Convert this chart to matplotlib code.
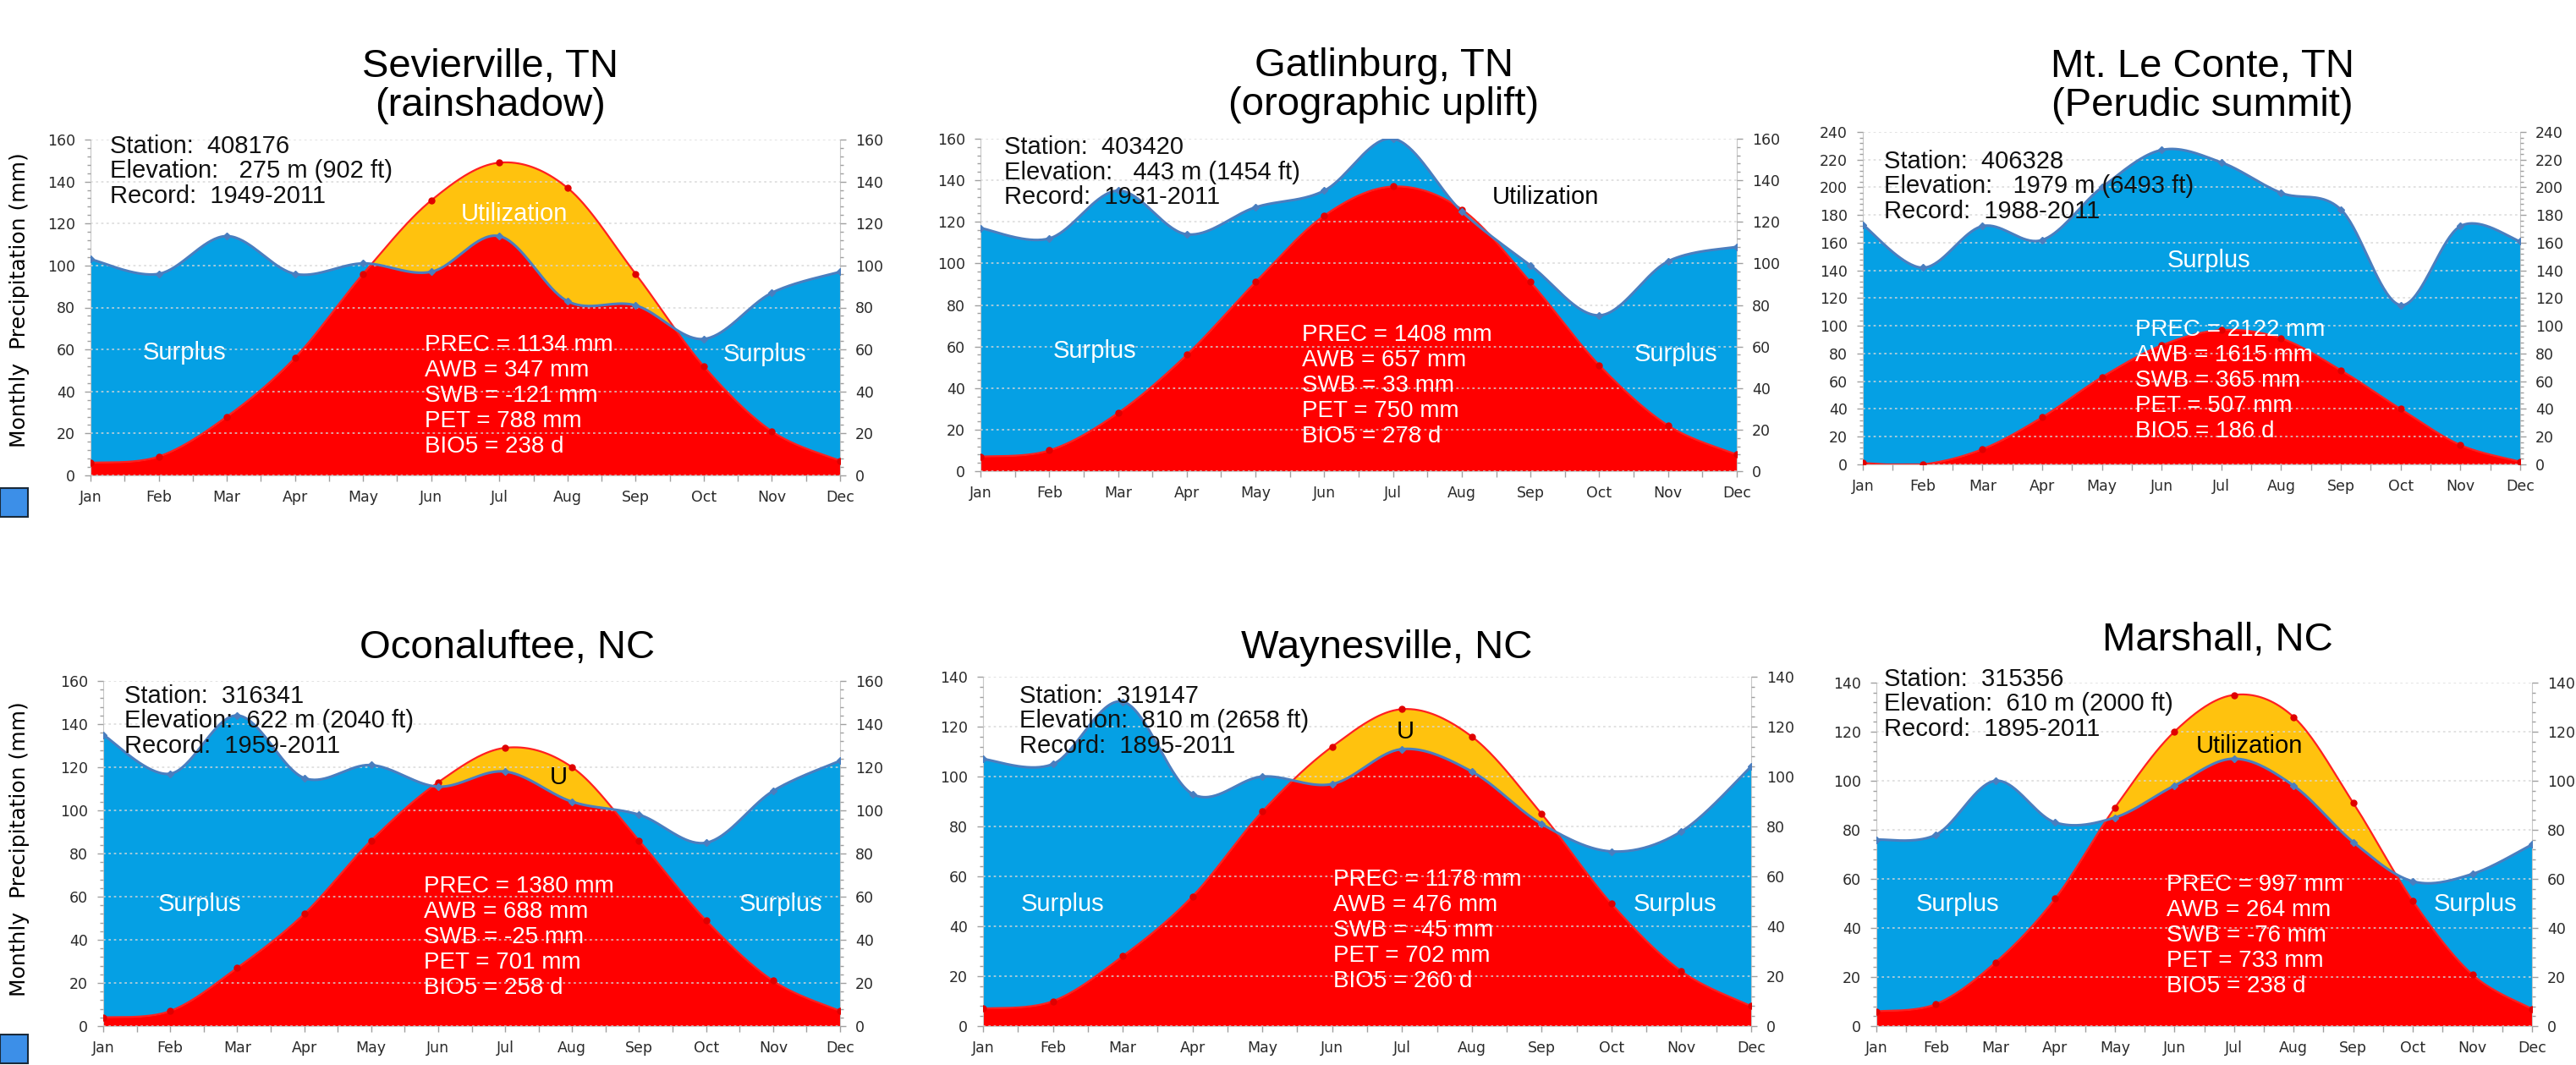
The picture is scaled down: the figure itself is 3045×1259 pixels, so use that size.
import numpy as np
import matplotlib.pyplot as plt
from matplotlib.patches import Rectangle
from matplotlib.ticker import MultipleLocator

W, H = 3045, 1259

months = ['Jan', 'Feb', 'Mar', 'Apr', 'May', 'Jun', 'Jul', 'Aug', 'Sep', 'Oct', 'Nov', 'Dec']

# monthly precipitation and potential evapotranspiration (mm)
sev_prec = [103, 96, 114, 96, 101, 97, 114, 83, 81, 65, 87, 97]
sev_pet = [6, 9, 28, 56, 96, 131, 149, 137, 96, 52, 21, 7]
gat_prec = [117, 112, 135, 114, 127, 135, 160, 125, 99, 75, 101, 108]
gat_pet = [7, 10, 28, 56, 91, 123, 137, 126, 91, 51, 22, 8]
lec_prec = [173, 142, 172, 162, 200, 227, 218, 196, 184, 115, 172, 161]
lec_pet = [1, 0, 11, 34, 63, 86, 97, 91, 68, 40, 14, 2]
oco_prec = [135, 117, 144, 115, 121, 111, 118, 104, 98, 85, 109, 123]
oco_pet = [4, 7, 27, 52, 86, 113, 129, 120, 86, 49, 21, 7]
way_prec = [107, 105, 130, 93, 100, 97, 111, 102, 81, 70, 78, 104]
way_pet = [7, 10, 28, 52, 86, 112, 127, 116, 85, 49, 22, 8]
mar_prec = [76, 78, 100, 83, 85, 98, 109, 98, 75, 59, 62, 74]
mar_pet = [6, 9, 26, 52, 89, 120, 135, 126, 91, 51, 21, 7]

titles = ['Sevierville, TN\n(rainshadow)', 'Gatlinburg, TN\n(orographic uplift)',
          'Mt. Le Conte, TN\n(Perudic summit)', 'Oconaluftee, NC', 'Waynesville, NC', 'Marshall, NC']
station_ids = ['408176', '403420', '406328', '316341', '319147', '315356']
elevations = ['   275 m (902 ft)', '   443 m (1454 ft)', '   1979 m (6493 ft)',
              '  622 m (2040 ft)', '  810 m (2658 ft)', '  610 m (2000 ft)']
records = ['1949-2011', '1931-2011', '1988-2011', '1959-2011', '1895-2011', '1895-2011']
prec_total = [1134, 1408, 2122, 1380, 1178, 997]
awb = [347, 657, 1615, 688, 476, 264]
swb = [-121, 33, 365, -25, -45, -76]
pet_total = [788, 750, 507, 701, 702, 733]
bio5 = [238, 278, 186, 258, 260, 238]

series = [(sev_prec, sev_pet), (gat_prec, gat_pet), (lec_prec, lec_pet),
          (oco_prec, oco_pet), (way_prec, way_pet), (mar_prec, mar_pet)]
ymax = [160, 160, 240, 160, 140, 140]

# layout in pixels: axes box (left, right, top, bottom), title centre, info and stats anchors
boxes = [(107, 993, 165, 562), (1159, 2053, 164, 557), (2202, 2979, 156, 549),
         (122, 993, 805, 1213), (1162, 2070, 800, 1213), (2218, 2993, 807, 1213)]
title_xy = [(580, 102), (1636, 101), (2603, 102), (600, 766), (1639, 766), (2621, 757)]
info_xy = [(130, 173), (1187, 174), (2227, 191), (147, 823), (1205, 823), (2227, 803)]
stats_xy = [(502, 408), (1539, 396), (2524, 390), (501, 1048), (1576, 1040), (2561, 1046)]
# (text, x, y, colour) labels inside the plots
labels = [
    [('Surplus', 218, 417, 'white'), ('Surplus', 904, 419, 'white'), ('Utilization', 608, 253, 'white')],
    [('Surplus', 1294, 415, 'white'), ('Surplus', 1981, 419, 'white'), ('Utilization', 1827, 233, 'black')],
    [('Surplus', 2611, 308, 'white')],
    [('Surplus', 236, 1069, 'white'), ('Surplus', 923, 1069, 'white'), ('U', 660, 919, 'black')],
    [('Surplus', 1256, 1069, 'white'), ('Surplus', 1980, 1069, 'white'), ('U', 1661, 865, 'black')],
    [('Surplus', 2314, 1069, 'white'), ('Surplus', 2926, 1069, 'white'), ('Utilization', 2659, 882, 'black')],
]

BLUE = '#05a0e4'
BLUE_LINE = '#4a7ebf'
RED = '#ff0000'
YELLOW = '#ffc20e'
SANS = ['Liberation Sans', 'DejaVu Sans']


def fx(x):
    return x / W


def fy(y):
    return 1 - y / H


def smooth(vals, n=40):
    # Catmull-Rom style bezier, the same kind of smoothing spreadsheet charts use
    x = np.arange(len(vals), dtype=float)
    y = np.asarray(vals, dtype=float)
    xp = np.concatenate([[x[0]], x, [x[-1]]])
    yp = np.concatenate([[y[0]], y, [y[-1]]])
    t = np.linspace(0, 1, n)[:, None]
    xs, ys = [], []
    for i in range(len(vals) - 1):
        p0, p1, p2, p3 = [np.array([xp[i + k], yp[i + k]]) for k in range(4)]
        c1 = p1 + (p2 - p0) / 6
        c2 = p2 - (p3 - p1) / 6
        b = ((1 - t) ** 3) * p1 + 3 * ((1 - t) ** 2) * t * c1 + 3 * (1 - t) * t ** 2 * c2 + t ** 3 * p2
        xs.append(b[:-1, 0])
        ys.append(b[:-1, 1])
    xs.append([x[-1]])
    ys.append([y[-1]])
    return np.concatenate(xs), np.concatenate(ys)


fig = plt.figure(figsize=(W / 100, H / 100), dpi=100)
idx = np.arange(12)

for k in range(6):
    prec, pet = series[k]
    l, r, t, b = boxes[k]
    ax = fig.add_axes([fx(l), fy(b), (r - l) / W, (b - t) / H])

    xs, ps = smooth(prec)
    _, es = smooth(pet)
    ps = np.clip(ps, 0, None)
    es = np.clip(es, 0, None)
    ax.fill_between(xs, 0, ps, color=BLUE, lw=0, zorder=1)
    ax.fill_between(xs, 0, es, color=YELLOW, lw=0, zorder=1.1)
    ax.fill_between(xs, 0, np.minimum(ps, es), color=RED, lw=0, zorder=1.2)
    ax.plot(xs, es, color='#ff2020', lw=1.6, zorder=3)
    ax.plot(idx, pet, 'o', ms=5, color='#e00000', zorder=3.5)
    ax.plot(xs, ps, color=BLUE_LINE, lw=2.2, zorder=3.2)
    ax.plot(idx, prec, 'D', ms=4.5, color=BLUE_LINE, zorder=3.6)

    ax.set_xlim(0, 11)
    ax.set_ylim(0, ymax[k])
    ax.set_xticks(idx)
    ax.set_xticklabels(months)
    ax.xaxis.set_minor_locator(MultipleLocator(0.5))
    ax.yaxis.set_major_locator(MultipleLocator(20))
    ax.yaxis.set_minor_locator(MultipleLocator(4))
    ax.tick_params(axis='both', which='both', colors='#a0a0a0', labelcolor='#2a2a2a',
                   labelsize=12.5, width=1)
    ax.tick_params(axis='y', which='both', left=True, right=True, labelleft=True, labelright=True)
    ax.tick_params(axis='y', which='major', length=5, pad=8)
    ax.tick_params(axis='y', which='minor', length=3)
    ax.tick_params(axis='x', which='both', length=5, pad=7)
    for s in ['left', 'right', 'bottom']:
        ax.spines[s].set_color('#c8c8c8')
    ax.spines['top'].set_visible(False)
    ax.set_axisbelow(False)
    ax.grid(axis='y', which='major', ls=(0, (1.5, 2)), color='#d8d8d8', lw=1.3, alpha=0.8)
    ax.set_facecolor('white')

    fig.text(fx(title_xy[k][0]), fy(title_xy[k][1]), titles[k], ha='center', va='center',
             fontsize=34, family=SANS, linespacing=1.05)

    ix, iy = info_xy[k]
    info = ['Station:  ' + station_ids[k], 'Elevation:' + elevations[k], 'Record:  ' + records[k]]
    for j, line in enumerate(info):
        fig.text(fx(ix), fy(iy + 29.5 * j), line, ha='left', va='center', fontsize=21,
                 family=SANS, color='#111111')

    sx, sy = stats_xy[k]
    stats = ['PREC = %d mm' % prec_total[k], 'AWB = %d mm' % awb[k], 'SWB = %d mm' % swb[k],
             'PET = %d mm' % pet_total[k], 'BIO5 = %d d' % bio5[k]]
    for j, line in enumerate(stats):
        fig.text(fx(sx), fy(sy + 30 * j), line, ha='left', va='center', fontsize=20,
                 family=SANS, color='white')

    for text, lx, ly, c in labels[k]:
        fig.text(fx(lx), fy(ly), text, ha='center', va='center', fontsize=21,
                 family=SANS, color=c)

# shared axis titles and the little legend swatches at the left edge
for yc in [355, 1004]:
    fig.text(fx(23), fy(yc), 'Monthly  Precipitation (mm)', rotation=90, ha='center',
             va='center', fontsize=18)
for y0 in [577, 1223]:
    fig.patches.append(Rectangle((0, fy(y0 + 34)), fx(33), 34 / H, transform=fig.transFigure,
                                 facecolor='#3c8fe8', edgecolor='#1a2a3a', lw=1.5))

fig.savefig('out.png', dpi=100, facecolor='white')
